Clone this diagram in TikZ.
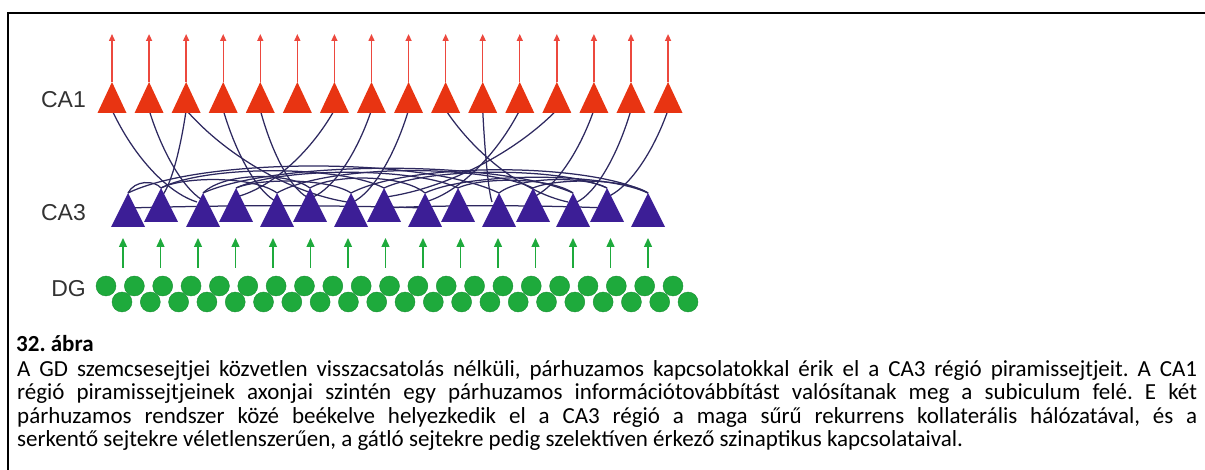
\documentclass[tikz,border=0pt]{standalone}
\usepackage{fontspec}
\setmainfont{Carlito}
\newfontfamily\labelfont{Liberation Sans}
\usetikzlibrary{arrows.meta,calc}
\definecolor{caone}{RGB}{232,52,18}
\definecolor{caarrow}{RGB}{236,72,62}
\definecolor{cathree}{RGB}{60,30,150}
\definecolor{synline}{RGB}{45,40,95}
\definecolor{dggreen}{RGB}{30,170,60}
\definecolor{labelgray}{RGB}{50,50,50}
\frenchspacing
\begin{document}
\begin{tikzpicture}[x=1pt,y=1pt,
  frameline/.style={line width=2pt, black},
  regionlabel/.style={font=\labelfont\fontsize{23}{23}\selectfont, text=labelgray, anchor=east, inner sep=0},
  axon/.style={caarrow, line width=1.4pt, -{Triangle[length=7pt,width=6pt]}},
  mossy/.style={dggreen, line width=1.4pt, -{Triangle[length=9pt,width=8pt]}},
  syn/.style={synline, line width=1.25pt},
  granule/.style={circle, fill=dggreen, draw=dggreen!85!black, line width=0.4pt, minimum size=20pt, inner sep=0},
  captionline/.style={anchor=base west, inner sep=0, font=\fontsize{23}{23.5}\selectfont},
]
\useasboundingbox (0,0) rectangle (1205,-470);
\draw[frameline] (8,-470) -- (8,-13) -- (1205,-13);

% region labels
\node[regionlabel] (lblca1) at (86,-100) {CA1};
\node[regionlabel] (lblca3) at (86,-213) {CA3};
\node[regionlabel] (lbldg) at (86,-289) {DG};

% CA1 coordinates
\foreach \i in {1,...,16} {
  \pgfmathsetmacro\xx{112+37.07*(\i-1)}
  \coordinate (t\i) at (\xx,-110);
  \coordinate (ta\i) at (\xx,-82);
  \coordinate (tt\i) at (\xx,-34);
}
% CA3 coordinates
\foreach \x [count=\i] in {128,161,203,236,277,310,351,384,425,458,499,533,573,607,648} {
  \pgfmathsetmacro\ay{mod(\i,2)==1 ? 193 : 188}
  \coordinate (ca\i) at (\x,-\ay);
  \coordinate (cm\i) at (\x,-208);
}

% CA1 -> CA3 Schaffer collaterals
\foreach \s/\e/\d in {1/3/-6,2/3/3,3/2/0,3/7/-4,4/5/0,5/6/-3,7/4/0,8/6/3,9/7/2,10/13/-5,11/11/-7,12/9/0,13/8/2,14/12/0,15/13/4,16/14/0} {
  \coordinate (se) at ($(ca\e)+(\d,-9)$);
  \draw[syn] let \p1=(t\s), \p2=(se) in
    (\p1) .. controls ({\x1+0.25*(\x2-\x1)},{\y1+0.5*(\y2-\y1)})
             and ({\x2-0.35*(\x2-\x1)},{\y2-0.1*(\y2-\y1)}) .. (\p2);
}

% CA3 recurrent collaterals
\foreach \a/\b/\c in {1/11/157,1/2/180,2/8/165,3/6/172,3/13/160,4/10/167,5/12/164,6/9/174,7/15/162,8/14/167,9/15/172,10/13/177,11/14/176,2/5/176,12/15/178,4/7/178} {
  \draw[syn] let \p1=(ca\a), \p2=(ca\b) in
    (\p1) .. controls ({\x1+0.2*(\x2-\x1)},-\c) and ({\x2-0.2*(\x2-\x1)},-\c) .. (\p2);
}
\draw[syn] (cm1) .. controls (230,-205) and (330,-205) .. (cm9);
\draw[syn] (cm8) .. controls (450,-205) and (530,-205) .. (cm14);

% CA1 pyramids and axons
\foreach \i in {1,...,16} {
  \draw[axon] (ta\i) -- (tt\i);
  \fill[caone] (ta\i) -- ++(14.5,-31) -- ++(-29,0) -- cycle;
}
% CA3 pyramids
\foreach \i in {1,...,15} {
  \fill[cathree] (ca\i) -- ++(17,-34) -- ++(-34,0) -- cycle;
}

% mossy fibres
\foreach \i in {1,...,15} {
  \pgfmathsetmacro\xx{123+37.5*(\i-1)}
  \coordinate (mb\i) at (\xx,-268);
  \coordinate (me\i) at (\xx,-238);
  \draw[mossy] (mb\i) -- (me\i);
}

% DG granule cells
\foreach \i in {1,...,21} {
  \pgfmathsetmacro\xx{106+28.35*(\i-1)}
  \node[granule] (gu\i) at (\xx,-286) {};
}
\foreach \i in {1,...,21} {
  \pgfmathsetmacro\xx{122+28.3*(\i-1)}
  \node[granule] (gl\i) at (\xx,-302) {};
}

% caption
\node[captionline, font=\bfseries\fontsize{23}{23.5}\selectfont] (captitle) at (16,-352) {32. ábra};
\node[captionline] (cap1) at (17,-376) {\hbox to 1180pt{A GD szemcsesejtjei közvetlen visszacsatolás nélküli, párhuzamos kapcsolatokkal érik el a CA3 régió piramissejtjeit. A CA1}};
\node[captionline] (cap2) at (17,-399.5) {\hbox to 1180pt{régió piramissejtjeinek axonjai szintén egy párhuzamos információtovábbítást valósítanak meg a subiculum felé. E két}};
\node[captionline] (cap3) at (17,-423) {\hbox to 1180pt{párhuzamos rendszer közé beékelve helyezkedik el a CA3 régió a maga sűrű rekurrens kollaterális hálózatával, és a}};
\node[captionline] (cap4) at (17,-446.5) {serkentő sejtekre véletlenszerűen, a gátló sejtekre pedig szelektíven érkező szinaptikus kapcsolataival.};
\end{tikzpicture}
\end{document}
